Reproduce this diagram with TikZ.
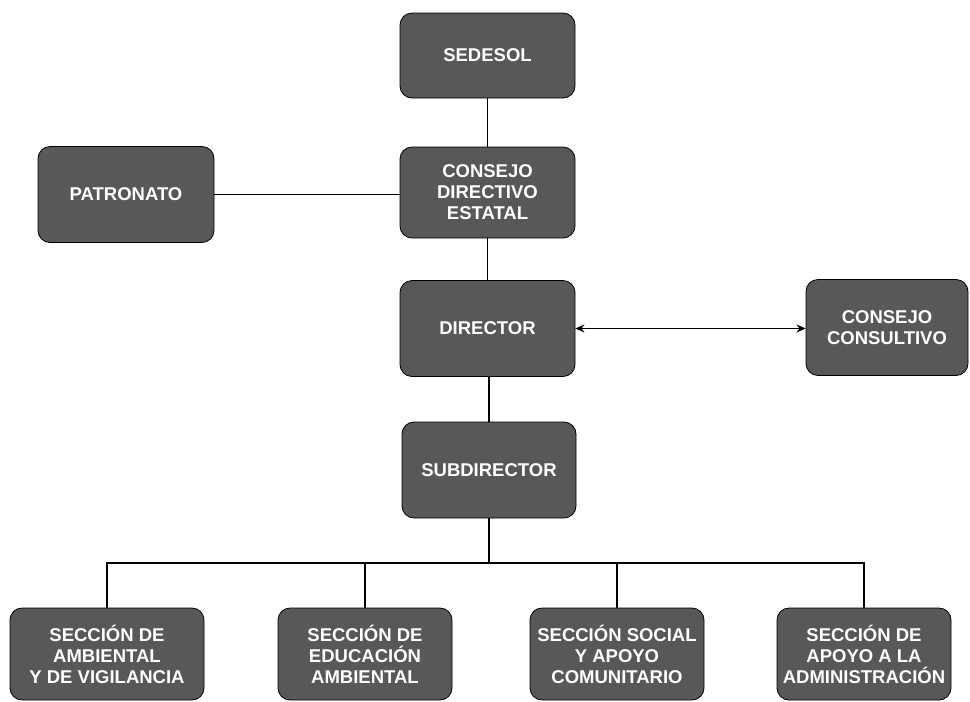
\documentclass[tikz,border=0pt]{standalone}
\usepackage{fontspec}
\setmainfont{Liberation Sans}
\usetikzlibrary{arrows.meta}
\definecolor{cajagris}{RGB}{88,88,88}
\tikzset{
    caja/.style={draw=black, line width=0.8pt, fill=cajagris, rounded corners=12pt,
        text=white, font=\fontsize{18.5}{21}\selectfont\bfseries, align=center,
        inner sep=0pt, minimum width=175pt, minimum height=96pt},
    linea/.style={line width=1.8pt}
}
\begin{document}
\begin{tikzpicture}[x=1pt,y=-1pt]
    \useasboundingbox (0,0) rectangle (970,702);
    \node[caja, minimum height=85pt] (sedesol) at (487.5,55.5) {SEDESOL};
    \node[caja, minimum height=91pt] (consejo) at (487.5,192.5) {CONSEJO\\DIRECTIVO\\ESTATAL};
    \node[caja, minimum width=176pt] (patronato) at (126,194.5) {PATRONATO};
    \node[caja] (director) at (487.5,328.5) {DIRECTOR};
    \node[caja, minimum width=162pt] (consultivo) at (887,327.5) {CONSEJO\\CONSULTIVO};
    \node[caja, minimum width=174pt] (subdirector) at (489,470) {SUBDIRECTOR};
    \node[caja, minimum width=194pt, minimum height=92pt] (ambiental) at (107,654) {SECCIÓN DE\\AMBIENTAL\\Y DE VIGILANCIA};
    \node[caja, minimum width=174pt, minimum height=92pt] (educacion) at (365,654) {SECCIÓN DE\\EDUCACIÓN\\AMBIENTAL};
    \node[caja, minimum width=174pt, minimum height=92pt] (social) at (617,654) {SECCIÓN SOCIAL\\Y APOYO\\COMUNITARIO};
    \node[caja, minimum width=174pt, minimum height=92pt] (administracion) at (864,654) {SECCIÓN DE\\APOYO A LA\\ADMINISTRACIÓN};
    \coordinate (bus) at (489,563);
    % conectores
    \draw[linea] (sedesol) -- (consejo);
    \draw[linea] (patronato.east) -- (patronato.east -| consejo.west);
    \draw[linea] (consejo) -- (director);
    \draw[linea, {Stealth[length=9pt,width=8pt]}-{Stealth[length=9pt,width=8pt]}] (director) -- (director.east -| consultivo.west);
    \draw[linea] (subdirector.north |- director.south) -- (subdirector.north);
    \draw[linea] (subdirector) -- (bus);
    \draw[linea] (ambiental.north) |- (bus) -| (administracion.north);
    \foreach \n in {educacion,social} \draw[linea] (\n.north) -- (\n.north |- bus);
\end{tikzpicture}
\end{document}
